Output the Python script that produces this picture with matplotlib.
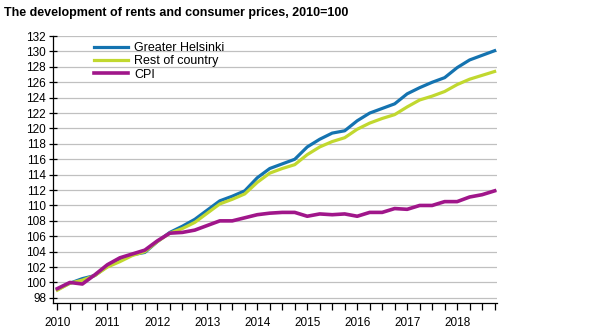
import numpy as np
import matplotlib
matplotlib.use("Agg")
import matplotlib.pyplot as plt

plt.rcParams["font.family"] = ["Liberation Sans", "DejaVu Sans"]

# Quarterly index values 2010Q1 - 2018Q4 (2010=100)
years = ["2010", "2011", "2012", "2013", "2014", "2015", "2016", "2017", "2018"]
greater_helsinki = [
    99.1, 99.9, 100.5, 100.9,
    102.1, 102.9, 103.6, 103.9,
    105.3, 106.5, 107.3, 108.2,
    109.4, 110.6, 111.2, 111.9,
    113.6, 114.8, 115.4, 116.0,
    117.6, 118.6, 119.4, 119.7,
    121.0, 122.0, 122.6, 123.2,
    124.5, 125.3, 126.0, 126.6,
    127.9, 128.9, 129.5, 130.1,
]
rest_of_country = [
    99.0, 99.9, 100.3, 100.9,
    102.0, 102.7, 103.5, 104.0,
    105.3, 106.4, 107.0, 107.8,
    109.0, 110.2, 110.8, 111.5,
    113.0, 114.2, 114.8, 115.3,
    116.6, 117.6, 118.3, 118.8,
    119.9, 120.7, 121.3, 121.8,
    122.8, 123.7, 124.2, 124.8,
    125.7, 126.4, 126.9, 127.4,
]
cpi = [
    99.2, 100.0, 99.8, 101.0,
    102.3, 103.2, 103.7, 104.2,
    105.4, 106.4, 106.5, 106.8,
    107.4, 108.0, 108.0, 108.4,
    108.8, 109.0, 109.1, 109.1,
    108.6, 108.9, 108.8, 108.9,
    108.6, 109.1, 109.1, 109.6,
    109.5, 110.0, 110.0, 110.5,
    110.5, 111.1, 111.4, 111.9,
]

x = np.arange(len(cpi))

fig = plt.figure(figsize=(5.89, 3.31), dpi=100)
ax = fig.add_axes([0.09, 0.085, 0.754, 0.806])

ax.plot(x, greater_helsinki, color="#1473b0", linewidth=2.3, label="Greater Helsinki", zorder=3)
ax.plot(x, rest_of_country, color="#c1d82f", linewidth=2.3, label="Rest of country", zorder=3)
ax.plot(x, cpi, color="#a0168a", linewidth=2.6, label="CPI", zorder=4)

ax.set_xlim(-0.35, 35.2)
ax.set_ylim(97.35, 132)
ax.set_yticks(np.arange(98, 133, 2))
ax.set_xticks(x, minor=True)
ax.set_xticks(x[::4])
ax.set_xticklabels(years)
ax.grid(axis="y", color="#c0c0c0", linewidth=0.9)
ax.set_axisbelow(True)

for s in ["top", "right"]:
    ax.spines[s].set_visible(False)
ax.spines["left"].set_linewidth(0.9)
ax.spines["bottom"].set_linewidth(0.9)

ax.tick_params(axis="y", direction="inout", length=6, width=0.9, labelsize=8.5, pad=2)
ax.tick_params(axis="x", which="both", direction="out", length=5, width=0.9, labelsize=8.5, pad=5)

ax.legend(loc="upper left", bbox_to_anchor=(0.075, 1.005), frameon=False, fontsize=9,
          handlelength=2.7, handletextpad=0.55, labelspacing=0.1, borderaxespad=0.2)

fig.text(0.006, 0.962, "The development of rents and consumer prices, 2010=100",
         fontsize=9, fontweight="bold", ha="left", va="center")

fig.savefig("out.png", dpi=100)
